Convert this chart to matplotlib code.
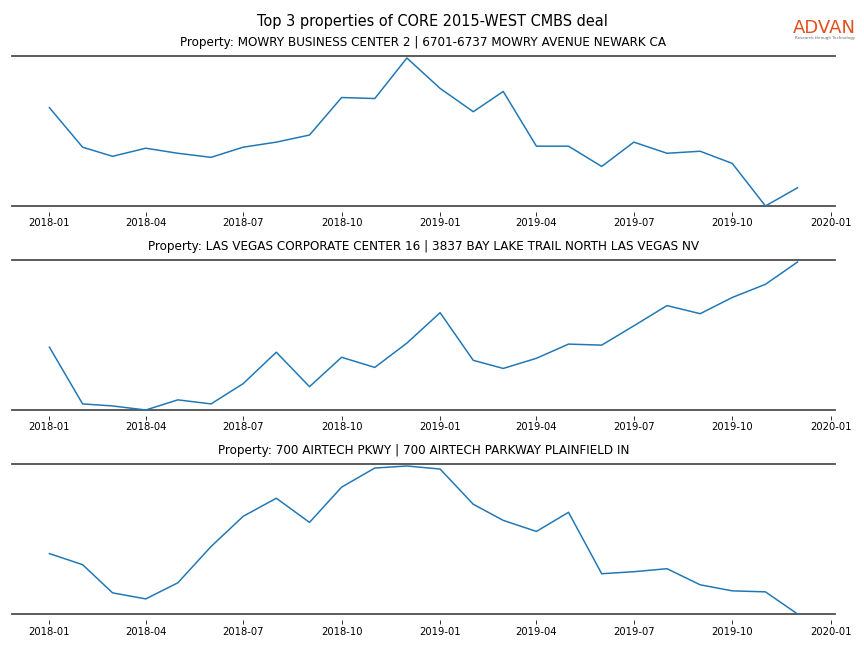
import numpy as np
import pandas as pd
import matplotlib
matplotlib.use('Agg')
import matplotlib.pyplot as plt
import matplotlib.dates as mdates

months = pd.date_range('2018-01-01', '2019-12-01', freq='MS')

titles = [
    'Property: MOWRY BUSINESS CENTER 2 | 6701-6737 MOWRY AVENUE NEWARK CA',
    'Property: LAS VEGAS CORPORATE CENTER 16 | 3837 BAY LAKE TRAIL NORTH LAS VEGAS NV',
    'Property: 700 AIRTECH PKWY | 700 AIRTECH PARKWAY PLAINFIELD IN',
]

# monthly visits (y axis is hidden)
mowry = [98, 59, 50, 58, 53, 49, 59, 64, 71, 108, 107, 147,
         117, 94, 114, 60, 60, 40, 64, 53, 55, 43, 1, 19]
las_vegas = [63, 7, 5, 1, 11, 7, 27, 58, 24, 53, 43, 67,
             97, 50, 42, 52, 66, 65, 84, 104, 96, 112, 125, 147]
airtech = [60, 49, 21, 15, 31, 67, 97, 115, 91, 126, 145, 147,
           144, 109, 93, 82, 101, 40, 42, 45, 29, 23, 22, 0]

series = [mowry, las_vegas, airtech]

fig, axes = plt.subplots(3, 1, figsize=(12, 9), dpi=72)
plt.subplots_adjust(left=0.0139, right=0.9664, top=0.9136, bottom=0.0432, hspace=0.3077)

for ax, title, vals in zip(axes, titles, series):
    ax.plot(months, vals, color='#1f77b4', linewidth=1.5)
    ax.set_title(title, fontsize=12, pad=10)
    lo, hi = min(vals), max(vals)
    r = hi - lo
    ax.set_ylim(lo - r * 6 / 148, hi + r * 2 / 148)
    # baseline sits at the series minimum, ticks hang a bit below it
    ax.axhline(lo, color='#4d4d4d', linewidth=1.8, zorder=1, clip_on=False)
    ax.set_yticks([])
    for s in ['left', 'right', 'bottom']:
        ax.spines[s].set_visible(False)
    ax.spines['top'].set_color('#4d4d4d')
    ax.spines['top'].set_linewidth(1.8)
    ax.xaxis.set_major_locator(mdates.MonthLocator(bymonth=[1, 4, 7, 10]))
    ax.xaxis.set_major_formatter(mdates.DateFormatter('%Y-%m'))
    ax.tick_params(axis='x', labelsize=10, length=3.5, pad=3)

fig.suptitle('Top 3 properties of CORE 2015-WEST CMBS deal', fontsize=14.5, y=0.978)

fig.text(0.9545, 0.957, 'ADVAN', color='#e0501f', fontsize=18, ha='center', va='center')
fig.text(0.9545, 0.941, 'Research through Technology', color='#666666', fontsize=4,
         ha='center', va='center')

plt.savefig('out.png', dpi=72)
